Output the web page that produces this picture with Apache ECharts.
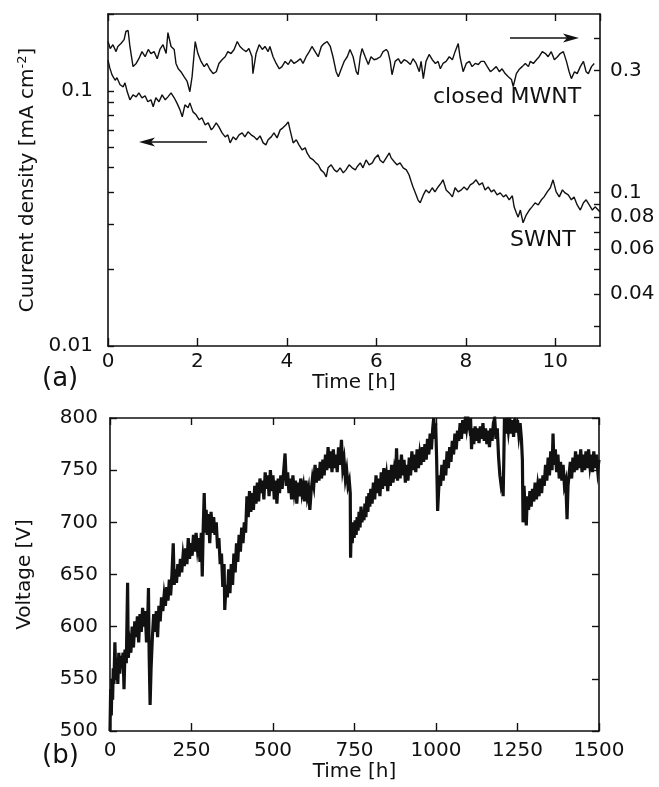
<!DOCTYPE html>
<html>
<head>
<meta charset="utf-8">
<script src="https://cdn.jsdelivr.net/npm/echarts@6/dist/echarts.min.js"></script>
<style>
html,body{margin:0;padding:0;background:#fff;}
#chart{width:659px;height:787px;}
</style>
</head>
<body>
<div id="chart"></div>
<script>
// ---------- data ----------
// (a) current density vs time [h]
const swntData = [[0,0.132],[0.04,0.123],[0.09,0.1155],[0.16,0.110],[0.20,0.1125],[0.27,0.1056],[0.34,0.1037],[0.38,0.1075],[0.43,0.0991],[0.49,0.0922],[0.56,0.0964],[0.63,0.0947],[0.69,0.0982],[0.76,0.0939],[0.83,0.0956],[0.89,0.0906],[0.96,0.0922],[1.01,0.0866],[1.07,0.0939],[1.14,0.0906],[1.21,0.0964],[1.28,0.0922],[1.34,0.0947],[1.41,0.0982],[1.48,0.0939],[1.54,0.0897],[1.61,0.0842],[1.66,0.0791],[1.72,0.0881],[1.79,0.0858],[1.83,0.0897],[1.90,0.0827],[1.97,0.0805],[2.04,0.0770],[2.10,0.0784],[2.17,0.0736],[2.24,0.0749],[2.31,0.0703],[2.35,0.0716],[2.42,0.0749],[2.48,0.0722],[2.55,0.0684],[2.62,0.0660],[2.68,0.0672],[2.73,0.0625],[2.80,0.0660],[2.86,0.0643],[2.93,0.0672],[3.00,0.0684],[3.06,0.0660],[3.13,0.0691],[3.20,0.0672],[3.27,0.0660],[3.33,0.0643],[3.40,0.0666],[3.47,0.0625],[3.53,0.0614],[3.58,0.0643],[3.65,0.0660],[3.71,0.0684],[3.78,0.0654],[3.85,0.0703],[3.91,0.0716],[3.98,0.0736],[4.03,0.0756],[4.07,0.0703],[4.14,0.0625],[4.21,0.0643],[4.27,0.0614],[4.34,0.0587],[4.41,0.0598],[4.45,0.0571],[4.52,0.0546],[4.59,0.0536],[4.65,0.0522],[4.70,0.0513],[4.76,0.0490],[4.83,0.0477],[4.88,0.0460],[4.92,0.0499],[4.99,0.0513],[5.06,0.0490],[5.12,0.0481],[5.19,0.0499],[5.26,0.0477],[5.32,0.0490],[5.39,0.0513],[5.46,0.0499],[5.53,0.0490],[5.57,0.0504],[5.64,0.0522],[5.70,0.0499],[5.77,0.0536],[5.84,0.0513],[5.91,0.0522],[5.97,0.0546],[6.04,0.0561],[6.08,0.0536],[6.15,0.0522],[6.22,0.0546],[6.29,0.0571],[6.33,0.0546],[6.40,0.0527],[6.46,0.0513],[6.53,0.0522],[6.60,0.0499],[6.67,0.0490],[6.73,0.0469],[6.78,0.0440],[6.82,0.0420],[6.89,0.0391],[6.93,0.0374],[6.98,0.0364],[7.05,0.0391],[7.11,0.0409],[7.18,0.0398],[7.25,0.0417],[7.31,0.0402],[7.38,0.0420],[7.45,0.0436],[7.49,0.0448],[7.56,0.0409],[7.63,0.0398],[7.70,0.0384],[7.76,0.0417],[7.83,0.0402],[7.90,0.0409],[7.96,0.0420],[8.03,0.0409],[8.10,0.0428],[8.17,0.0436],[8.23,0.0448],[8.30,0.0428],[8.37,0.0436],[8.43,0.0409],[8.50,0.0420],[8.57,0.0402],[8.63,0.0409],[8.70,0.0391],[8.77,0.0398],[8.84,0.0384],[8.90,0.0391],[8.97,0.0374],[9.04,0.0388],[9.08,0.0351],[9.13,0.0332],[9.17,0.0320],[9.22,0.0341],[9.28,0.0304],[9.35,0.0326],[9.42,0.0341],[9.48,0.0351],[9.55,0.0364],[9.62,0.0357],[9.69,0.0374],[9.75,0.0384],[9.82,0.0402],[9.89,0.0417],[9.95,0.0448],[10.02,0.0402],[10.09,0.0384],[10.16,0.0409],[10.22,0.0398],[10.29,0.0391],[10.36,0.0374],[10.42,0.0384],[10.49,0.0357],[10.56,0.0341],[10.63,0.0364],[10.69,0.0374],[10.76,0.0357],[10.83,0.0341],[10.89,0.0351],[10.96,0.0341],[11.0,0.0335]];

const mwntData = [[0,0.390],[0.05,0.366],[0.11,0.379],[0.18,0.356],[0.22,0.373],[0.29,0.383],[0.36,0.397],[0.40,0.427],[0.45,0.431],[0.49,0.373],[0.56,0.311],[0.63,0.320],[0.69,0.334],[0.76,0.356],[0.83,0.340],[0.90,0.363],[0.96,0.350],[1.03,0.356],[1.10,0.334],[1.16,0.363],[1.23,0.379],[1.30,0.350],[1.34,0.423],[1.41,0.373],[1.48,0.363],[1.52,0.320],[1.57,0.305],[1.63,0.297],[1.70,0.284],[1.77,0.272],[1.83,0.248],[1.88,0.284],[1.95,0.390],[2.01,0.350],[2.08,0.326],[2.15,0.311],[2.21,0.320],[2.28,0.303],[2.35,0.292],[2.42,0.297],[2.48,0.320],[2.55,0.331],[2.62,0.340],[2.68,0.356],[2.75,0.350],[2.82,0.363],[2.89,0.390],[2.95,0.373],[3.02,0.363],[3.09,0.356],[3.15,0.366],[3.22,0.340],[3.24,0.292],[3.31,0.350],[3.38,0.379],[3.45,0.363],[3.51,0.373],[3.58,0.356],[3.62,0.373],[3.69,0.340],[3.76,0.320],[3.83,0.305],[3.89,0.311],[3.96,0.326],[4.03,0.317],[4.09,0.331],[4.16,0.320],[4.23,0.326],[4.30,0.334],[4.36,0.320],[4.43,0.340],[4.50,0.356],[4.56,0.373],[4.63,0.356],[4.70,0.340],[4.77,0.373],[4.83,0.383],[4.90,0.390],[4.97,0.373],[5.03,0.340],[5.10,0.297],[5.15,0.284],[5.21,0.303],[5.28,0.326],[5.35,0.340],[5.41,0.363],[5.48,0.340],[5.55,0.297],[5.59,0.289],[5.64,0.340],[5.68,0.366],[5.75,0.340],[5.82,0.317],[5.88,0.340],[5.95,0.331],[6.02,0.334],[6.09,0.340],[6.15,0.356],[6.22,0.363],[6.26,0.356],[6.31,0.326],[6.35,0.289],[6.42,0.326],[6.49,0.334],[6.55,0.320],[6.62,0.331],[6.69,0.326],[6.76,0.317],[6.82,0.334],[6.89,0.320],[6.96,0.297],[7.00,0.326],[7.05,0.279],[7.11,0.326],[7.18,0.347],[7.25,0.331],[7.32,0.320],[7.38,0.326],[7.43,0.305],[7.49,0.320],[7.56,0.326],[7.63,0.340],[7.70,0.331],[7.76,0.356],[7.83,0.383],[7.87,0.340],[7.94,0.297],[8.01,0.320],[8.08,0.326],[8.14,0.311],[8.21,0.320],[8.28,0.317],[8.34,0.326],[8.41,0.326],[8.48,0.311],[8.55,0.297],[8.61,0.303],[8.68,0.311],[8.75,0.297],[8.81,0.305],[8.88,0.292],[8.95,0.284],[9.02,0.277],[9.06,0.260],[9.13,0.292],[9.19,0.303],[9.26,0.311],[9.33,0.320],[9.40,0.311],[9.44,0.326],[9.51,0.320],[9.58,0.331],[9.64,0.340],[9.71,0.356],[9.78,0.350],[9.84,0.340],[9.91,0.356],[9.98,0.331],[10.05,0.340],[10.11,0.350],[10.18,0.356],[10.25,0.326],[10.31,0.297],[10.36,0.279],[10.43,0.297],[10.49,0.292],[10.56,0.311],[10.63,0.326],[10.69,0.297],[10.74,0.292],[10.81,0.311],[10.87,0.320]];

// (b) voltage [V] vs time [h]
const voltageData = [[0,500],[2,540],[4,515],[6,550],[8,530],[10,560],[12,545],[15,585],[18,550],[21,570],[24,545],[27,575],[30,555],[33,572],[36,560],[40,575],[43,540],[46,578],[50,565],[54,642],[56,570],[60,585],[64,575],[68,600],[72,580],[76,605],[80,590],[84,610],[88,585],[92,612],[96,595],[100,618],[104,600],[108,615],[112,585],[116,610],[118,637],[120,575],[123,525],[126,560],[130,590],[134,612],[138,595],[142,615],[146,590],[150,620],[154,605],[158,628],[162,615],[166,630],[170,620],[174,638],[178,625],[182,645],[186,630],[190,650],[194,680],[197,640],[200,655],[204,642],[208,660],[212,648],[216,665],[220,652],[224,668],[228,658],[232,675],[236,660],[240,685],[244,665],[248,680],[252,668],[256,688],[260,672],[264,690],[268,675],[272,685],[276,662],[280,690],[283,648],[286,695],[289,728],[292,690],[295,712],[298,688],[302,708],[306,680],[310,710],[314,690],[318,705],[322,688],[326,700],[330,675],[334,685],[338,660],[342,670],[346,638],[350,660],[352,616],[356,640],[360,628],[364,655],[368,632],[372,660],[376,640],[380,670],[384,652],[388,680],[392,662],[396,688],[400,672],[404,695],[408,680],[412,700],[416,690],[420,725],[424,705],[428,730],[432,710],[436,728],[440,712],[444,735],[448,718],[452,738],[456,720],[460,742],[464,728],[468,740],[472,722],[476,748],[480,732],[484,745],[488,725],[492,750],[496,730],[500,745],[504,722],[508,740],[512,718],[516,742],[520,728],[524,745],[528,732],[533,750],[537,766],[541,735],[545,748],[549,728],[553,742],[557,722],[561,745],[565,730],[569,740],[573,718],[577,738],[581,725],[585,742],[589,728],[593,735],[597,720],[601,740],[605,725],[609,732],[613,712],[617,730],[621,742],[625,735],[629,755],[633,738],[637,752],[641,740],[645,758],[649,742],[653,760],[657,745],[661,765],[665,750],[669,772],[673,752],[677,768],[681,748],[685,770],[689,752],[693,765],[697,748],[701,772],[705,755],[710,779],[714,752],[718,760],[722,742],[726,750],[730,735],[734,740],[737,728],[738,666],[740,695],[743,680],[746,700],[749,685],[752,702],[755,688],[758,705],[761,692],[764,710],[767,695],[770,715],[773,700],[776,712],[779,702],[782,718],[785,705],[788,725],[791,710],[794,728],[797,715],[800,732],[804,718],[808,738],[812,722],[816,745],[820,728],[824,742],[828,725],[832,748],[836,732],[840,752],[844,735],[848,745],[852,730],[856,750],[860,735],[864,755],[868,738],[872,750],[876,742],[879,771],[882,740],[886,760],[890,742],[894,765],[898,745],[902,760],[906,738],[910,755],[914,740],[918,762],[922,745],[926,768],[930,750],[934,765],[938,748],[942,770],[946,752],[950,765],[954,755],[958,772],[962,758],[966,775],[970,760],[974,780],[978,765],[982,785],[986,770],[990,790],[993,800],[996,780],[999,795],[1002,760],[1005,711],[1008,730],[1011,745],[1014,735],[1018,755],[1022,740],[1026,760],[1030,745],[1034,768],[1038,752],[1042,772],[1046,758],[1050,778],[1054,765],[1058,785],[1062,770],[1066,788],[1070,778],[1074,795],[1078,780],[1082,798],[1086,785],[1090,800],[1094,790],[1098,800],[1102,792],[1106,800],[1109,770],[1112,790],[1116,775],[1120,792],[1124,778],[1128,790],[1132,776],[1136,792],[1140,780],[1144,795],[1148,778],[1152,790],[1156,775],[1160,788],[1164,772],[1168,790],[1172,778],[1176,795],[1180,800],[1184,780],[1188,790],[1192,762],[1196,745],[1200,735],[1204,740],[1206,725],[1208,760],[1210,800],[1214,785],[1218,800],[1222,788],[1226,800],[1230,785],[1234,798],[1238,782],[1242,800],[1246,786],[1250,798],[1254,784],[1258,795],[1262,780],[1265,760],[1267,700],[1270,735],[1273,715],[1277,697],[1280,725],[1284,712],[1288,730],[1292,715],[1296,732],[1300,720],[1304,738],[1308,722],[1312,735],[1316,725],[1320,742],[1324,728],[1328,745],[1332,735],[1336,755],[1340,740],[1344,762],[1348,745],[1352,768],[1356,750],[1359,785],[1362,755],[1366,770],[1370,748],[1374,765],[1378,742],[1382,758],[1386,740],[1390,755],[1394,735],[1398,740],[1402,703],[1405,735],[1408,745],[1412,758],[1416,742],[1420,762],[1424,748],[1428,768],[1432,750],[1436,765],[1440,752],[1444,770],[1448,748],[1452,765],[1456,750],[1460,768],[1464,752],[1468,770],[1472,755],[1476,765],[1480,748],[1484,768],[1488,752],[1492,765],[1496,750],[1500,760]];

// tick values / labels
const leftLabelValues  = [0.01, 0.1];
const leftTickValues   = [0.01,0.02,0.03,0.04,0.05,0.06,0.07,0.08,0.09,0.1,0.2];
const rightLabelValues = [0.04, 0.06, 0.08, 0.1, 0.3];
const rightTickValues  = [0.03,0.04,0.05,0.06,0.07,0.08,0.09,0.1,0.2,0.3,0.4];
const seriesLabels = ['SWNT', 'closed MWNT'];
const panelLabels = ['(a)', '(b)'];

// ---------- chart ----------
const FONT = 'DejaVu Sans';
const BLACK = '#111';
const chart = echarts.init(document.getElementById('chart'), null, {renderer: 'canvas'});

const lineStyleAxis = {color: BLACK, width: 1.6};
const fmtNum = v => String(+(+v).toPrecision(3));
const fmtInt = v => String(Math.round(v));

function mirrorX(grid, min, max, interval) {
  return {gridIndex: grid, type: 'value', position: 'top', min, max, interval,
    axisLine: {show: true, onZero: false, lineStyle: lineStyleAxis},
    axisTick: {show: true, inside: true, length: 7, lineStyle: {color: BLACK, width: 1.4}},
    axisLabel: {show: false}, splitLine: {show: false}};
}

const option = {
  animation: false,
  backgroundColor: '#fff',
  textStyle: {fontFamily: FONT, color: BLACK},
  grid: [
    {left: 108, top: 14, width: 492, height: 332},
    {left: 110, top: 418, width: 489, height: 313}
  ],
  xAxis: [
    {gridIndex: 0, type: 'value', position: 'bottom', min: 0, max: 11, interval: 2,
      name: 'Time [h]', nameLocation: 'middle', nameGap: 27,
      nameTextStyle: {fontFamily: FONT, fontSize: 20, color: BLACK},
      axisLine: {show: true, onZero: false, lineStyle: lineStyleAxis},
      axisTick: {show: true, inside: true, length: 8, lineStyle: {color: BLACK, width: 1.4}},
      axisLabel: {fontFamily: FONT, fontSize: 20, color: BLACK, margin: 6, showMaxLabel: false, formatter: fmtInt},
      splitLine: {show: false}},
    mirrorX(0, 0, 11, 2),
    {gridIndex: 1, type: 'value', position: 'bottom', min: 0, max: 1500, interval: 250,
      name: 'Time [h]', nameLocation: 'middle', nameGap: 31,
      nameTextStyle: {fontFamily: FONT, fontSize: 20, color: BLACK},
      axisLine: {show: true, onZero: false, lineStyle: lineStyleAxis},
      axisTick: {show: true, inside: true, length: 8, lineStyle: {color: BLACK, width: 1.4}},
      axisLabel: {fontFamily: FONT, fontSize: 20, color: BLACK, margin: 10, formatter: fmtInt},
      splitLine: {show: false}},
    mirrorX(1, 0, 1500, 250)
  ],
  yAxis: [
    {gridIndex: 0, type: 'log', logBase: 10, position: 'left', min: 0.01, max: 0.2,
      name: '{t|Cuurent density [mA cm}{s|-2}{t|]}', nameLocation: 'middle', nameGap: 58,
      nameTextStyle: {fontFamily: FONT, fontSize: 20, color: BLACK,
        rich: {t: {fontFamily: FONT, fontSize: 20, color: BLACK},
               s: {fontFamily: FONT, fontSize: 13, color: BLACK, verticalAlign: 'top', padding: [0,0,10,0]}}},
      axisLine: {show: true, onZero: false, lineStyle: lineStyleAxis},
      axisTick: {show: true, inside: true, length: 6, customValues: leftTickValues, lineStyle: {color: BLACK, width: 1.4}},
      axisLabel: {fontFamily: FONT, fontSize: 20, color: BLACK, margin: 15, customValues: leftLabelValues, formatter: fmtNum},
      splitLine: {show: false}, minorTick: {show: false}},
    {gridIndex: 0, type: 'log', logBase: 10, position: 'right', min: 0.025, max: 0.5,
      axisLine: {show: true, onZero: false, lineStyle: lineStyleAxis},
      axisTick: {show: true, inside: true, length: 6, customValues: rightTickValues, lineStyle: {color: BLACK, width: 1.4}},
      axisLabel: {fontFamily: FONT, fontSize: 20, color: BLACK, margin: 10, customValues: rightLabelValues, formatter: fmtNum},
      splitLine: {show: false}},
    {gridIndex: 1, type: 'value', position: 'left', min: 500, max: 800, interval: 50,
      name: 'Voltage [V]', nameLocation: 'middle', nameGap: 75,
      nameTextStyle: {fontFamily: FONT, fontSize: 20, color: BLACK},
      axisLine: {show: true, onZero: false, lineStyle: lineStyleAxis},
      axisTick: {show: true, inside: true, length: 7, lineStyle: {color: BLACK, width: 1.4}},
      axisLabel: {fontFamily: FONT, fontSize: 20, color: BLACK, margin: 12, formatter: fmtInt},
      splitLine: {show: false}},
    {gridIndex: 1, type: 'value', position: 'right', min: 500, max: 800, interval: 50,
      axisLine: {show: true, onZero: false, lineStyle: lineStyleAxis},
      axisTick: {show: true, inside: true, length: 7, lineStyle: {color: BLACK, width: 1.4}},
      axisLabel: {show: false}, splitLine: {show: false}}
  ],
  series: [
    {name: seriesLabels[0], type: 'line', xAxisIndex: 0, yAxisIndex: 0, data: swntData,
      showSymbol: false, symbol: 'none', lineStyle: {color: BLACK, width: 1.4}},
    {name: seriesLabels[1], type: 'line', xAxisIndex: 0, yAxisIndex: 1, data: mwntData,
      showSymbol: false, symbol: 'none', lineStyle: {color: BLACK, width: 1.4}},
    {name: 'Voltage', type: 'line', xAxisIndex: 2, yAxisIndex: 2, data: voltageData,
      showSymbol: false, symbol: 'none', lineStyle: {color: BLACK, width: 3.2, join: 'miter'}}
  ],
  graphic: [
    {type: 'text', left: 433, top: 86, style: {text: seriesLabels[1], font: '22px "DejaVu Sans"', fill: BLACK}},
    {type: 'text', left: 510, top: 229, style: {text: seriesLabels[0], font: '22px "DejaVu Sans"', fill: BLACK}},
    {type: 'text', left: 42, top: 366, style: {text: panelLabels[0], font: '26px "DejaVu Sans"', fill: BLACK}},
    {type: 'text', left: 42, top: 743, style: {text: panelLabels[1], font: '26px "DejaVu Sans"', fill: BLACK}},
    // arrows
    {type: 'line', shape: {x1: 150, y1: 142, x2: 207, y2: 142}, style: {stroke: BLACK, lineWidth: 1.3}},
    {type: 'polygon', shape: {points: [[139,142],[155,137.5],[151,142],[155,146.5]]}, style: {fill: BLACK}},
    {type: 'line', shape: {x1: 510, y1: 38, x2: 568, y2: 38}, style: {stroke: BLACK, lineWidth: 1.3}},
    {type: 'polygon', shape: {points: [[579,38],[563,33.5],[567,38],[563,42.5]]}, style: {fill: BLACK}}
  ]
};
chart.setOption(option);
</script>
</body>
</html>
